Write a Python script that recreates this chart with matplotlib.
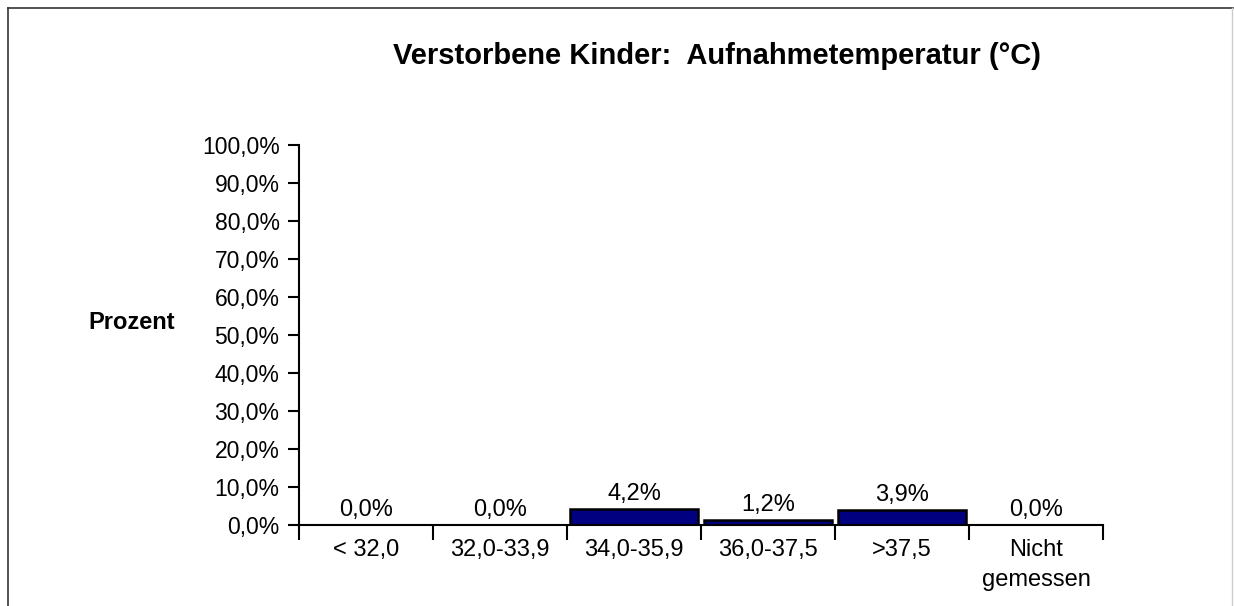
import matplotlib.pyplot as plt
import numpy as np
from matplotlib.lines import Line2D

plt.rcParams['font.family'] = ['Liberation Sans', 'DejaVu Sans']

# Data
categories = ["< 32,0", "32,0-33,9", "34,0-35,9", "36,0-37,5", ">37,5", "Nicht\ngemessen"]
values = [0.0, 0.0, 4.2, 1.2, 3.9, 0.0]
yticks = [0, 10, 20, 30, 40, 50, 60, 70, 80, 90, 100]

fig = plt.figure(figsize=(12.34, 6.06), dpi=100)
ax = fig.add_axes([0.2423, 0.1337, 0.8939 - 0.2423, 0.7607 - 0.1337])

x = np.arange(len(categories))
bars = ax.bar(x, values, width=0.95, color="#000080", edgecolor="black", linewidth=1.8)

for xi, v in zip(x, values):
    ax.annotate(f"{v:.1f}%".replace(".", ","), (xi, v), xytext=(0, 3),
                textcoords="offset points", ha="center", va="bottom", fontsize=17)

ax.set_xlim(-0.5, len(categories) - 0.5)
ax.set_ylim(0, 100)
ax.set_yticks(yticks)
ax.set_yticklabels([f"{t:.1f}%".replace(".", ",") for t in yticks], fontsize=16.5)
ax.set_xticks(x)
ax.set_xticklabels(categories, fontsize=17, linespacing=1.45)
ax.set_xticks(np.arange(-0.5, len(categories)), minor=True)
ax.tick_params(axis="x", which="major", length=0, pad=10)
ax.tick_params(axis="x", which="minor", length=11, width=1.5, direction="out")
ax.tick_params(axis="y", length=8, width=1.5, direction="out", pad=6)

for side in ["top", "right"]:
    ax.spines[side].set_visible(False)
for side in ["left", "bottom"]:
    ax.spines[side].set_linewidth(1.5)

fig.text(0.581, 0.907, "Verstorbene Kinder:  Aufnahmetemperatur (°C)",
         ha="center", va="center", fontsize=21, fontweight="bold")
fig.text(0.107, 0.467, "Prozent", ha="center", va="center", fontsize=17, fontweight="bold")

# frame around the chart
fig.add_artist(Line2D([0.0065, 0.0065], [0, 0.986], color="#333333", lw=1.2))
fig.add_artist(Line2D([0.0065, 0.999], [0.986, 0.986], color="#333333", lw=1.2))
fig.add_artist(Line2D([0.9985, 0.9985], [0, 0.986], color="#cccccc", lw=1.0))

fig.savefig("out.png", dpi=100)
